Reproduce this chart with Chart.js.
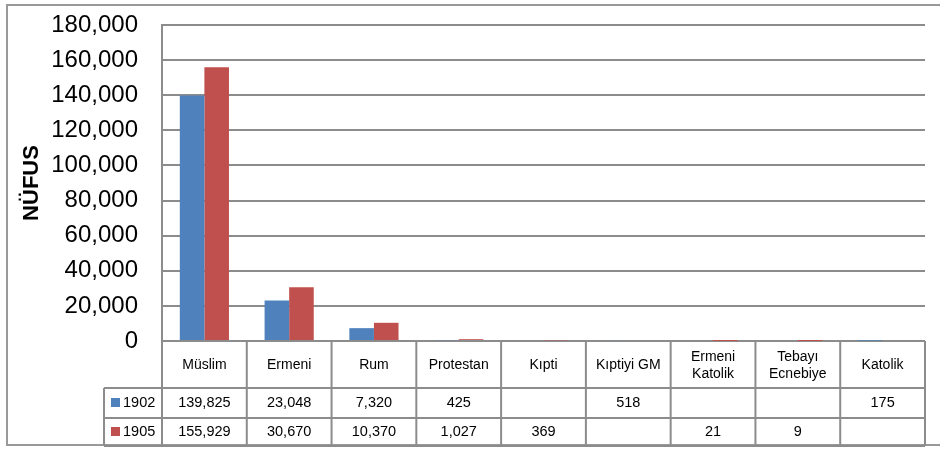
<!DOCTYPE html>
<html>
<head>
<meta charset="utf-8">
<script src="https://cdn.jsdelivr.net/npm/chart.js@4/dist/chart.umd.min.js"></script>
<style>
  html, body { margin: 0; padding: 0; background: #fff; }
  #wrap { width: 940px; height: 449px; position: relative; }
</style>
</head>
<body>
<div id="wrap"><canvas id="myChart" width="940" height="449"></canvas></div>
<script>
const categories = [
  ['Müslim'], ['Ermeni'], ['Rum'], ['Protestan'], ['Kıpti'],
  ['Kıptiyi GM'], ['Ermeni', 'Katolik'], ['Tebayı', 'Ecnebiye'], ['Katolik']
];
const seriesNames = ['1902', '1905'];
const values1902 = [139825, 23048, 7320, 425, null, 518, null, null, 175];
const values1905 = [155929, 30670, 10370, 1027, 369, null, 21, 9, null];
const yTicks = [0, 20000, 40000, 60000, 80000, 100000, 120000, 140000, 160000, 180000];

const colors = ['#4F81BD', '#C0504D'];
const lineGray = '#8c8c8c';
const fontFamily = '"Liberation Sans", Arial, sans-serif';

function fmt(v) {
  return v.toLocaleString('en-US');
}

// outer frame around the whole chart (right side runs off the picture)
const framePlugin = {
  id: 'frame',
  beforeDraw(chart) {
    const ctx = chart.ctx;
    ctx.save();
    ctx.fillStyle = '#fff';
    ctx.fillRect(0, 0, chart.width, chart.height);
    ctx.strokeStyle = '#999';
    ctx.lineWidth = 2;
    ctx.strokeRect(7, 5, chart.width, chart.height - 9);
    ctx.restore();
  }
};

// data table under the plot, columns follow the x scale
const tablePlugin = {
  id: 'dataTable',
  afterDraw(chart) {
    const ctx = chart.ctx;
    const area = chart.chartArea;
    const xs = chart.scales.x;
    const n = categories.length;
    const colW = (area.right - area.left) / n;
    const top = area.bottom;
    const headBottom = top + 47;
    const row1Bottom = headBottom + 30;
    const bottom = chart.height - 3;
    const legLeft = area.left - 58;

    ctx.save();
    ctx.strokeStyle = lineGray;
    ctx.lineWidth = 2;
    ctx.beginPath();
    for (let i = 0; i <= n; i++) {
      const x = area.left + i * colW;
      ctx.moveTo(x, top);
      ctx.lineTo(x, bottom);
    }
    ctx.moveTo(legLeft, headBottom);
    ctx.lineTo(area.right, headBottom);
    ctx.moveTo(legLeft, row1Bottom);
    ctx.lineTo(area.right, row1Bottom);
    ctx.moveTo(legLeft, bottom);
    ctx.lineTo(area.right, bottom);
    ctx.moveTo(legLeft, headBottom);
    ctx.lineTo(legLeft, bottom);
    ctx.stroke();

    ctx.fillStyle = '#000';
    ctx.textAlign = 'center';
    ctx.textBaseline = 'middle';
    ctx.font = '14px ' + fontFamily;
    const headMid = (top + headBottom) / 2;
    categories.forEach(function(lines, i) {
      const cx = xs.getPixelForValue(i);
      const lh = 17;
      lines.forEach(function(line, j) {
        const y = headMid + (j - (lines.length - 1) / 2) * lh + 1;
        ctx.fillText(line, cx, y);
      });
    });

    const rows = [
      { data: values1902, y: (headBottom + row1Bottom) / 2 },
      { data: values1905, y: (row1Bottom + bottom) / 2 }
    ];
    ctx.font = '14.5px ' + fontFamily;
    rows.forEach(function(row, r) {
      row.data.forEach(function(v, i) {
        if (v === null) return;
        ctx.fillText(fmt(v), xs.getPixelForValue(i), row.y);
      });
      ctx.fillStyle = colors[r];
      ctx.fillRect(legLeft + 7, row.y - 5, 9, 9);
      ctx.fillStyle = '#000';
      ctx.textAlign = 'left';
      ctx.fillText(seriesNames[r], legLeft + 19, row.y);
      ctx.textAlign = 'center';
    });
    ctx.restore();
  }
};

const ctx = document.getElementById('myChart').getContext('2d');
const chart = new Chart(ctx, {
  type: 'bar',
  data: {
    labels: categories,
    datasets: [
      { label: seriesNames[0], data: values1902, backgroundColor: colors[0] },
      { label: seriesNames[1], data: values1905, backgroundColor: colors[1] }
    ]
  },
  options: {
    responsive: false,
    animation: false,
    layout: { padding: { left: 0, top: 25, right: 15, bottom: 0 } },
    datasets: {
      bar: { categoryPercentage: 0.58, barPercentage: 1 }
    },
    plugins: {
      legend: { display: false },
      tooltip: { enabled: false }
    },
    scales: {
      x: {
        grid: { display: false },
        border: { display: false },
        ticks: { display: false },
        afterFit: function(scale) { scale.height = 108; }
      },
      y: {
        min: 0,
        max: 180000,
        afterBuildTicks: function(scale) {
          scale.ticks = yTicks.map(function(v) { return { value: v }; });
        },
        grid: { color: lineGray, lineWidth: 2, drawTicks: false },
        border: { color: lineGray, width: 2 },
        ticks: {
          color: '#000',
          padding: 24,
          font: { size: 24, family: fontFamily },
          callback: function(v) { return fmt(v); }
        },
        title: {
          display: true,
          text: 'NÜFUS',
          color: '#000',
          font: { size: 22, weight: 'bold', family: fontFamily },
          padding: { top: 19, bottom: 0 }
        },
        afterFit: function(scale) {
          scale.width = 162;
          scale.paddingTop = 0;
          scale.paddingBottom = 0;
        }
      }
    }
  },
  plugins: [framePlugin, tablePlugin]
});
</script>
</body>
</html>
